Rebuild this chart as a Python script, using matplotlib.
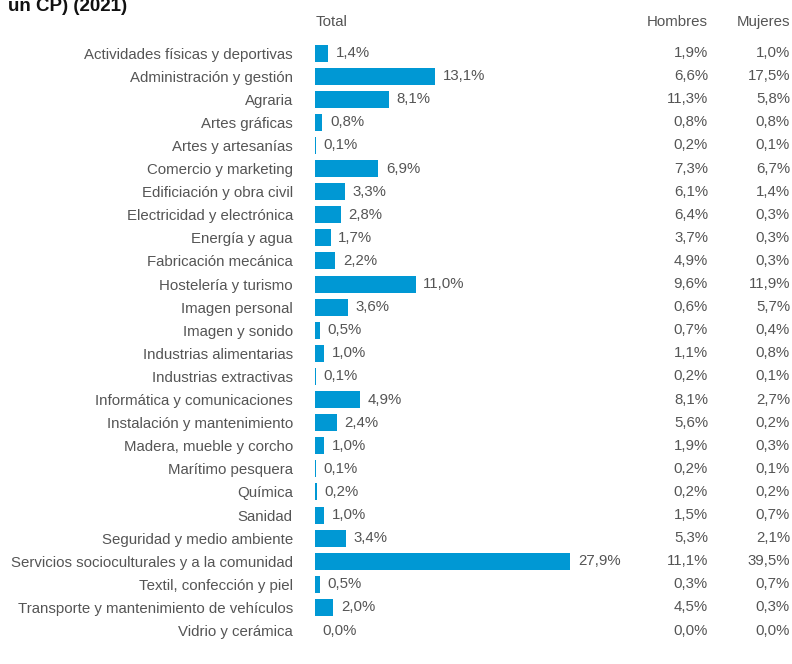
import matplotlib
matplotlib.use("Agg")
import matplotlib.pyplot as plt
from matplotlib import transforms

categories = [
    "Actividades físicas y deportivas", "Administración y gestión", "Agraria",
    "Artes gráficas", "Artes y artesanías", "Comercio y marketing",
    "Edificiación y obra civil", "Electricidad y electrónica", "Energía y agua",
    "Fabricación mecánica", "Hostelería y turismo", "Imagen personal",
    "Imagen y sonido", "Industrias alimentarias", "Industrias extractivas",
    "Informática y comunicaciones", "Instalación y mantenimiento",
    "Madera, mueble y corcho", "Marítimo pesquera", "Química", "Sanidad",
    "Seguridad y medio ambiente", "Servicios socioculturales y a la comunidad",
    "Textil, confección y piel", "Transporte y mantenimiento de vehículos",
    "Vidrio y cerámica",
]
total = [1.4, 13.1, 8.1, 0.8, 0.1, 6.9, 3.3, 2.8, 1.7, 2.2, 11.0, 3.6, 0.5, 1.0,
         0.1, 4.9, 2.4, 1.0, 0.1, 0.2, 1.0, 3.4, 27.9, 0.5, 2.0, 0.0]
hombres = [1.9, 6.6, 11.3, 0.8, 0.2, 7.3, 6.1, 6.4, 3.7, 4.9, 9.6, 0.6, 0.7, 1.1,
           0.2, 8.1, 5.6, 1.9, 0.2, 0.2, 1.5, 5.3, 11.1, 0.3, 4.5, 0.0]
mujeres = [1.0, 17.5, 5.8, 0.8, 0.1, 6.7, 1.4, 0.3, 0.3, 0.3, 11.9, 5.7, 0.4, 0.8,
           0.1, 2.7, 0.2, 0.3, 0.1, 0.2, 0.7, 2.1, 39.5, 0.7, 0.3, 0.0]


def pct(v):
    return f"{v:.1f}%".replace(".", ",")


plt.rcParams["font.family"] = ["Liberation Sans", "DejaVu Sans"]
grey = "#555555"
blue = "#0098d4"
fs = 10.8

W, H = 792, 664
fig = plt.figure(figsize=(W / 100, H / 100), dpi=100)

px_per_unit = 9.14
row = 23.1
ax_left, ax_top, ax_bot = 315, 41.5, 664
ax = fig.add_axes([ax_left / W, 0, (W - ax_left) / W, (H - ax_top) / H])
y = list(range(len(categories)))
ax.barh(y, total, height=0.74, color=blue)
ax.set_xlim(0, (W - ax_left) / px_per_unit)
ax.set_ylim(-0.5 + (ax_bot - ax_top) / row, -0.5)
ax.set_yticks(y)
ax.set_yticklabels(categories, fontsize=fs, color=grey)
ax.tick_params(axis="y", length=0, pad=16)
ax.set_xticks([])
for s in ax.spines.values():
    s.set_visible(False)

for i, v in enumerate(total):
    ax.text(v + 0.85, i, pct(v), va="center", ha="left", fontsize=fs, color=grey)

tr = transforms.blended_transform_factory(fig.transFigure, ax.transData)
for i in range(len(categories)):
    ax.text(708 / W, i, pct(hombres[i]), transform=tr, ha="right", va="center",
            fontsize=fs, color=grey)
    ax.text(790 / W, i, pct(mujeres[i]), transform=tr, ha="right", va="center",
            fontsize=fs, color=grey)

fig.text(316 / W, 1 - 22 / H, "Total", ha="left", va="center", fontsize=fs, color=grey)
fig.text(708 / W, 1 - 22 / H, "Hombres", ha="right", va="center", fontsize=fs, color=grey)
fig.text(790 / W, 1 - 22 / H, "Mujeres", ha="right", va="center", fontsize=fs, color=grey)
fig.text(8 / W, 1 - 11 / H, "un CP) (2021)", ha="left", va="baseline",
         fontsize=13.5, fontweight="bold", color="#111111")

fig.savefig("out.png", dpi=100)
